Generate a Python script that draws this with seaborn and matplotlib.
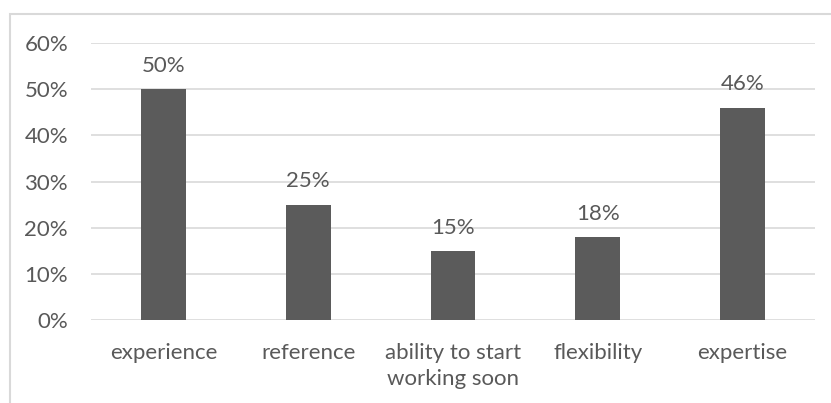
import matplotlib
matplotlib.use("Agg")
import matplotlib.pyplot as plt
from matplotlib.patches import Rectangle
from matplotlib.ticker import PercentFormatter
import pandas as pd
import seaborn as sns

categories = ["experience", "reference", "ability to start\nworking soon", "flexibility", "expertise"]
shares = [0.50, 0.25, 0.15, 0.18, 0.46]
y_ticks = [0.0, 0.1, 0.2, 0.3, 0.4, 0.5, 0.6]

df = pd.DataFrame({"category": categories, "share": shares})

sns.set_style("white")
plt.rcParams["font.family"] = ["Lato", "DejaVu Sans"]

W, H = 831, 403
fig = plt.figure(figsize=(W / 100, H / 100), dpi=100)
ax = fig.add_axes([91 / W, (H - 320) / H, (815 - 91) / W, (320 - 43) / H])

text_color = "#595959"
grid_color = "#d9d9d9"
fs = 16

sns.barplot(data=df, x="category", y="share", color="#5b5b5b", width=0.31,
            saturation=1, linewidth=0, ax=ax, zorder=3)

ax.set_ylim(0, 0.6)
ax.set_yticks(y_ticks)
ax.yaxis.set_major_formatter(PercentFormatter(1.0, decimals=0))
ax.grid(axis="y", color=grid_color, linewidth=1.2, zorder=0)
ax.set_axisbelow(True)
for s in ax.spines.values():
    s.set_visible(False)
ax.set_xlabel("")
ax.set_ylabel("")
ax.tick_params(axis="both", length=0, labelsize=fs, colors=text_color)
ax.tick_params(axis="y", pad=16.5)
ax.tick_params(axis="x", pad=16.5)
for lbl in ax.get_xticklabels():
    lbl.set_verticalalignment("top")
    lbl.set_linespacing(1.4)

for container in ax.containers:
    ax.bar_label(container, labels=[f"{v:.0%}" for v in shares], padding=9.5,
                 fontsize=fs, color=text_color)

# outer chart frame
fig.patches.append(Rectangle((9.5 / W, -0.1), 1.2, (H - 14.5) / H + 0.1,
                             transform=fig.transFigure, fill=False,
                             edgecolor=grid_color, linewidth=1.5))

fig.savefig("out.png", dpi=100)
